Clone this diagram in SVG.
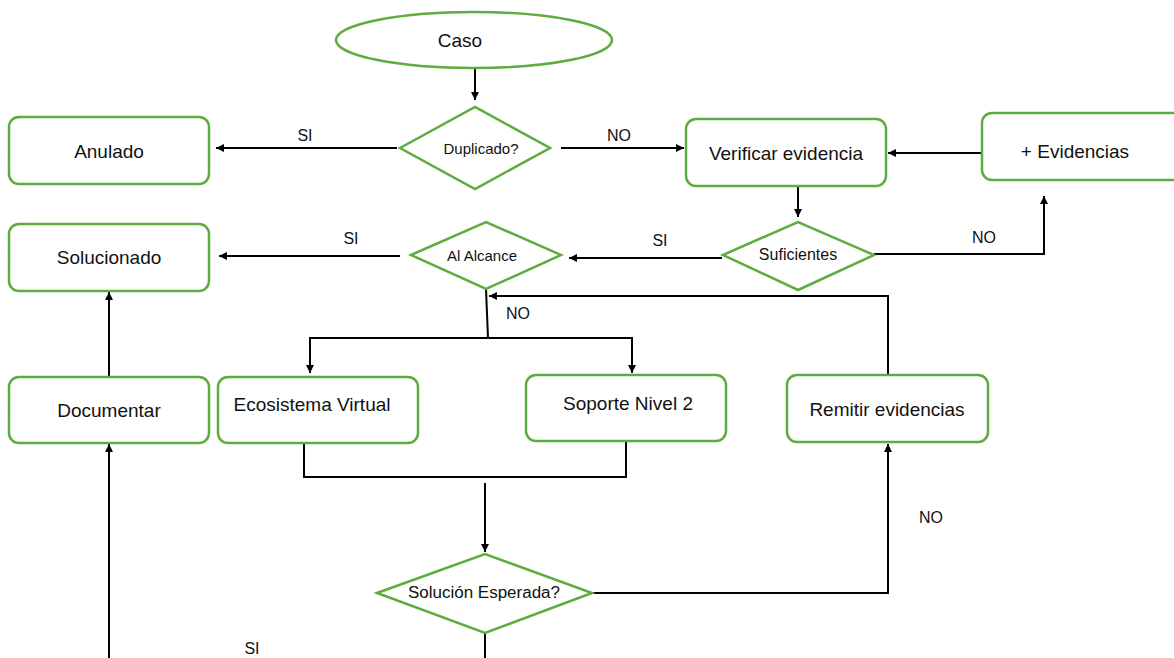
<svg xmlns="http://www.w3.org/2000/svg" width="1174" height="658" viewBox="0 0 1174 658">
<style>
.n{fill:#fff;stroke:#5eab3f;stroke-width:2.5}
.t{font-family:"Liberation Sans",Arial,sans-serif;font-size:19px;fill:#111;text-anchor:middle;dominant-baseline:central}
.d{font-family:"Liberation Sans",Arial,sans-serif;font-size:15px;fill:#111;text-anchor:middle;dominant-baseline:central}
.l{font-family:"Liberation Sans",Arial,sans-serif;font-size:16px;fill:#111;text-anchor:middle;dominant-baseline:central}
.c{fill:none;stroke:#000;stroke-width:2}
</style>
<defs>
<marker id="a" markerWidth="10" markerHeight="10" refX="8" refY="5" orient="auto" markerUnits="userSpaceOnUse">
<path d="M0,1 L8,5 L0,9 Z" fill="#000"/>
</marker>
</defs>
<rect width="1174" height="658" fill="#fff"/>
<g id="connectors">
<path class="c" d="M475,68 V100" marker-end="url(#a)"/>
<path class="c" d="M397,148 H216" marker-end="url(#a)"/>
<path class="c" d="M561,148 H684" marker-end="url(#a)"/>
<path class="c" d="M987,153 H888" marker-end="url(#a)"/>
<path class="c" d="M798,186 V217" marker-end="url(#a)"/>
<path class="c" d="M874,254 H1044 V196" marker-end="url(#a)"/>
<path class="c" d="M722,258 H569" marker-end="url(#a)"/>
<path class="c" d="M400,256 H219" marker-end="url(#a)"/>
<path class="c" d="M486,289 L488,338"/>
<path class="c" d="M488,338 H310 V373" marker-end="url(#a)"/>
<path class="c" d="M488,338 H632 V373" marker-end="url(#a)"/>
<path class="c" d="M888,375 V296 H489" marker-end="url(#a)"/>
<path class="c" d="M109,377 V292" marker-end="url(#a)"/>
<path class="c" d="M304,443 V477 H626 V441"/>
<path class="c" d="M485,483 V552" marker-end="url(#a)"/>
<path class="c" d="M592,593 H888 V444" marker-end="url(#a)"/>
<path class="c" d="M485,633 V658"/>
<path class="c" d="M109,658 V444" marker-end="url(#a)"/>
<text class="l" x="305" y="135">SI</text>
<text class="l" x="619" y="135">NO</text>
<text class="l" x="984" y="237">NO</text>
<text class="l" x="660" y="240">SI</text>
<text class="l" x="351" y="238">SI</text>
<text class="l" x="518" y="313">NO</text>
<text class="l" x="931" y="517">NO</text>
<text class="l" x="252" y="648">SI</text>
</g>
<g id="caso"><ellipse class="n" cx="474" cy="40" rx="138" ry="28"/><text class="t" x="460" y="40">Caso</text></g>
<g id="duplicado"><polygon class="n" points="400,148 475,107 550,148 475,189"/><text class="d" x="481" y="148">Duplicado?</text></g>
<g id="anulado"><rect class="n" x="9" y="117" width="200" height="67" rx="10"/><text class="t" x="109" y="151">Anulado</text></g>
<g id="verificar"><rect class="n" x="686" y="119" width="200" height="67" rx="10"/><text class="t" x="786" y="153">Verificar evidencia</text></g>
<g id="evidencias"><rect class="n" x="982" y="113" width="205" height="67" rx="10"/><text class="t" x="1075" y="151">+ Evidencias</text></g>
<g id="suficientes"><polygon class="n" points="723,255 798,222 874,255 798,290"/><text class="d" x="798" y="254" style="font-size:16px">Suficientes</text></g>
<g id="alcance"><polygon class="n" points="411,255 486,222 561,255 486,289"/><text class="d" x="482" y="255">Al Alcance</text></g>
<g id="solucionado"><rect class="n" x="9" y="224" width="200" height="67" rx="10"/><text class="t" x="109" y="257">Solucionado</text></g>
<g id="ecosistema"><rect class="n" x="218" y="377" width="200" height="66" rx="10"/><text class="t" x="312" y="404">Ecosistema Virtual</text></g>
<g id="soporte"><rect class="n" x="526" y="375" width="200" height="66" rx="10"/><text class="t" x="628" y="403">Soporte Nivel 2</text></g>
<g id="remitir"><rect class="n" x="787" y="375" width="201" height="67" rx="10"/><text class="t" x="887" y="409">Remitir evidencias</text></g>
<g id="documentar"><rect class="n" x="9" y="377" width="200" height="66" rx="10"/><text class="t" x="109" y="410">Documentar</text></g>
<g id="esperada"><polygon class="n" points="377,593 485,554 592,593 485,633"/><text class="d" x="484" y="592" style="font-size:16px" textLength="152" lengthAdjust="spacingAndGlyphs">Solución Esperada?</text></g>
</svg>
